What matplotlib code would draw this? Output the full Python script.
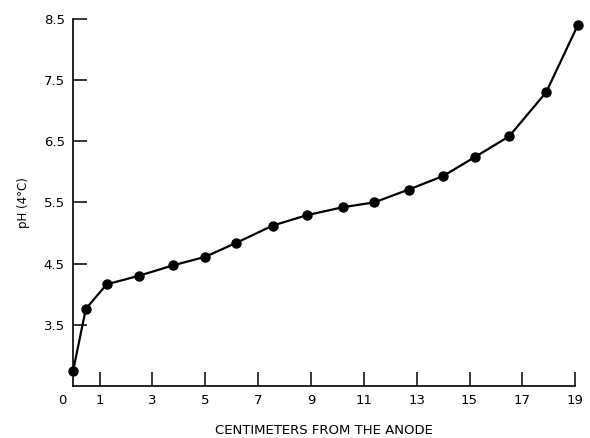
import matplotlib
matplotlib.use("Agg")
import matplotlib.pyplot as plt

# distance from anode (cm) and pH at 4 C
cm = [0.0, 0.48, 1.27, 2.49, 3.78, 5.0, 6.18, 7.55, 8.84, 10.2, 11.4, 12.7, 14.0, 15.2, 16.5, 17.9, 19.1]
ph = [2.75, 3.76, 4.16, 4.30, 4.47, 4.61, 4.84, 5.12, 5.29, 5.42, 5.50, 5.71, 5.93, 6.24, 6.58, 7.30, 8.40]

xticks = [1, 3, 5, 7, 9, 11, 13, 15, 17, 19]
yticks = [3.5, 4.5, 5.5, 6.5, 7.5, 8.5]

plt.rcParams["font.family"] = ["DejaVu Sans"]

fig = plt.figure(figsize=(5.9, 4.38), dpi=100)
ax = fig.add_axes([0.124, 0.119, 0.851, 0.838])

ax.plot(cm, ph, color="black", lw=1.6, marker="o", ms=6.5, clip_on=False, zorder=3)

ax.set_xlim(0, 19)
ax.set_ylim(2.5, 8.5)
ax.set_xticks(xticks)
ax.set_yticks(yticks)
ax.set_yticklabels([f"{v:.1f}" for v in yticks])
# the origin label sits a little left of the corner
ax.annotate("0", xy=(0, 0), xycoords=("data", "axes fraction"),
            xytext=(-8, -6), textcoords="offset points",
            ha="center", va="top", fontsize=9.5)

ax.spines["top"].set_visible(False)
ax.spines["right"].set_visible(False)
ax.spines["left"].set_linewidth(1.2)
ax.spines["bottom"].set_linewidth(1.2)
ax.tick_params(direction="in", length=10, width=1.1, labelsize=9.5, pad=6)

ax.set_xlabel("CENTIMETERS FROM THE ANODE", fontsize=9.5, labelpad=12)
ax.set_ylabel("pH (4°C)", fontsize=8.5, labelpad=10)

fig.savefig("out.png", dpi=100)
